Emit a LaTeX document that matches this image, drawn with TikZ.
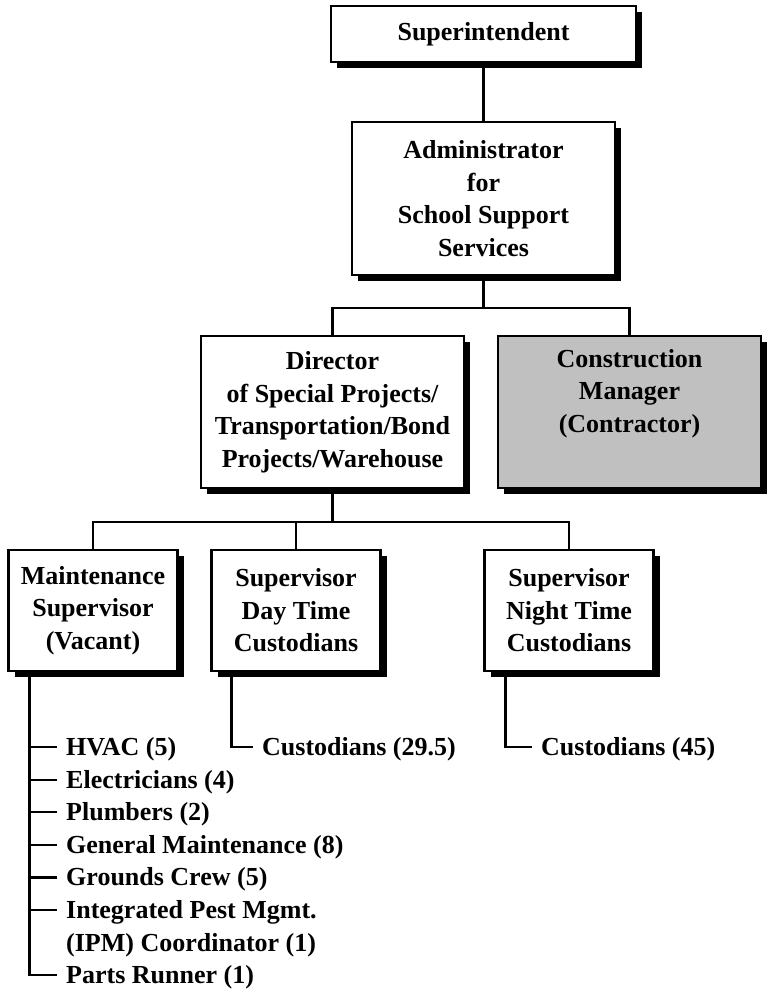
\documentclass[tikz,border=0pt]{standalone}
\usepackage{fontspec}
\setmainfont{Liberation Serif}
\usetikzlibrary{shadows,calc}
\definecolor{cmgray}{RGB}{192,192,192}
\begin{document}
\begin{tikzpicture}[x=1pt,y=-1pt,
  txt/.style={font=\fontsize{26}{32.5}\selectfont\bfseries},
  box/.style={txt,draw=black,line width=2.2pt,fill=white,inner sep=0pt,outer sep=0pt,align=center,
    drop shadow={shadow xshift=6pt,shadow yshift=-6pt,fill=black,opacity=1}},
  widebox/.style={box,minimum width=263pt,minimum height=152pt},
  smallbox/.style={box,minimum width=169pt,minimum height=121pt},
  link/.style={line width=2.2pt},
  item/.style={txt,anchor=west,inner xsep=9pt,inner ysep=0pt,text height=17pt,text depth=0pt}]
\useasboundingbox (0,0) rectangle (767,1000);

% Chart boxes
\node[box,minimum width=305pt,minimum height=56pt] (super) at (483.5,34) {Superintendent};
\node[box,minimum width=263pt,minimum height=153pt] (admin) at (483.5,198.5)
  {Administrator\\for\\School Support\\Services};
\node[widebox] (dir) at (332.5,412)
  {Director\\of Special Projects/\\Transportation/Bond\\Projects/Warehouse};
\node[widebox,fill=cmgray] (cm) at (629.5,412)
  {Construction\\Manager\\(Contractor)\\\strut};
\node[smallbox] (maint) at (93,610.5) {Maintenance\\Supervisor\\(Vacant)};
\node[smallbox] (day) at (296,610.5) {Supervisor\\Day Time\\Custodians};
\node[smallbox] (night) at (569,610.5) {Supervisor\\Night Time\\Custodians};

% Reporting lines
\draw[link] (super) -- (admin);
\coordinate (bus1) at ($(admin.south)+(0,33)$);
\draw[link] (admin.south) -- (bus1);
\draw[link] (dir.north) |- (bus1) -| (cm.north);
\coordinate (bus2) at ($(dir.south)+(0,34)$);
\draw[link] (dir.south) -- (bus2);
\draw[link] (maint.north) |- (bus2) -| (night.north);
\draw[link] (day.north) -- (day.north |- bus2);

% Maintenance staff
\node[item] (hvac)    at (57,747)   {HVAC (5)};
\node[item] (elec)    at (57,779.6) {Electricians (4)};
\node[item] (plumb)   at (57,812.2) {Plumbers (2)};
\node[item] (genm)    at (57,844.8) {General Maintenance (8)};
\node[item] (grounds) at (57,877.4) {Grounds Crew (5)};
\node[item] (ipm)     at (57,910)   {Integrated Pest Mgmt.};
\node[item] (ipmb)    at (57,942.6) {(IPM) Coordinator (1)};
\node[item] (parts)   at (57,975.2) {Parts Runner (1)};
\coordinate (mtrunk) at ($(maint.south west)+(21,0)$);
\draw[link] (mtrunk) |- (parts.west);
\foreach \n in {hvac,elec,plumb,genm,grounds,ipm}
  \draw[link] (\n.west) -- (\n.west -| mtrunk);

% Custodial staff
\node[item] (dcust) at (253,747) {Custodians (29.5)};
\coordinate (dtrunk) at ($(day.south west)+(20,0)$);
\draw[link] (dtrunk) |- (dcust.west);
\node[item] (ncust) at (532,747) {Custodians (45)};
\coordinate (ntrunk) at ($(night.south west)+(21,0)$);
\draw[link] (ntrunk) |- (ncust.west);
\end{tikzpicture}
\end{document}
